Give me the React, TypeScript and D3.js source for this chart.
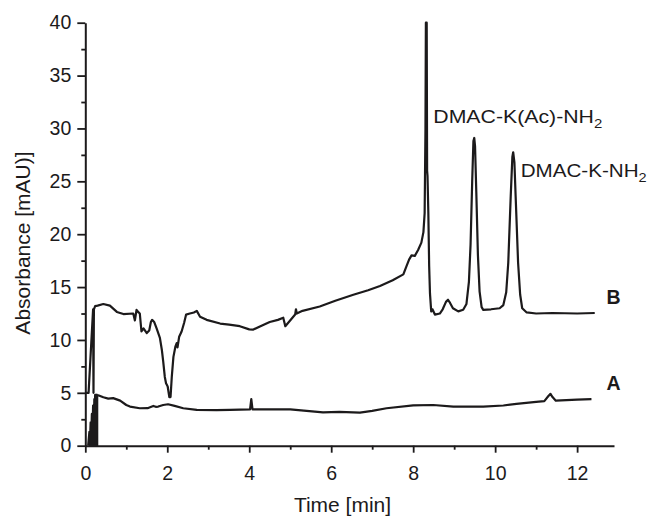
import React, { useEffect, useRef } from 'react';
import * as d3 from 'd3';

// HPLC traces, absorbance [mAU] against time [min]
const xTicks = [0, 2, 4, 6, 8, 10, 12];
const xMinor = [1, 3, 5, 7, 9, 11];
const yTicks = [0, 5, 10, 15, 20, 25, 30, 35, 40];
const yMinor = [2.5, 7.5, 12.5, 17.5, 22.5, 27.5, 32.5, 37.5];

const traceB: [number, number][] = [
  [0.02, 5.0], [0.08, 5.0], [0.19, 12.9], [0.2, 5.0], [0.21, 12.9], [0.24, 13.2],
  [0.3, 13.25], [0.44, 13.4], [0.6, 13.25], [0.77, 12.65], [0.93, 12.45], [1.17, 12.5],
  [1.21, 11.85], [1.25, 12.85], [1.3, 12.6], [1.33, 12.5], [1.37, 10.8], [1.42, 11.1],
  [1.5, 10.65], [1.56, 10.9], [1.6, 11.7], [1.63, 11.9], [1.68, 11.7], [1.74, 11.1],
  [1.82, 10.2], [1.87, 9.0], [1.9, 8.0], [1.94, 6.5], [1.97, 5.9], [2.01, 5.6],
  [2.05, 4.6], [2.08, 4.6], [2.11, 6.5], [2.15, 8.4], [2.2, 9.4], [2.23, 9.7],
  [2.25, 9.3], [2.29, 10.3], [2.35, 10.8], [2.41, 11.6], [2.46, 12.4], [2.55, 12.5],
  [2.65, 12.6], [2.72, 12.75], [2.8, 12.2], [2.96, 11.9], [3.29, 11.55], [3.51, 11.45],
  [3.77, 11.3], [4.0, 11.0], [4.1, 10.98], [4.3, 11.35], [4.5, 11.7], [4.7, 11.9],
  [4.83, 12.1], [4.88, 11.3], [5.12, 12.4], [5.14, 12.9], [5.16, 12.5], [5.3, 12.75],
  [5.72, 13.16], [6.1, 13.7], [6.54, 14.27], [6.9, 14.7], [7.19, 15.1], [7.5, 15.65],
  [7.76, 16.2], [7.84, 17.0], [7.9, 17.6], [7.96, 18.0], [8.04, 17.95], [8.12, 18.5],
  [8.2, 19.2], [8.25, 20.2], [8.28, 22], [8.3, 30], [8.31, 40], [8.33, 40],
  [8.34, 26], [8.35, 25.5], [8.37, 22], [8.39, 17], [8.41, 14.4], [8.44, 12.7],
  [8.47, 12.9], [8.53, 12.4], [8.65, 12.5], [8.72, 12.9], [8.8, 13.6], [8.85, 13.8],
  [8.9, 13.5], [8.97, 13.0], [9.1, 12.7], [9.22, 12.85], [9.3, 13.4], [9.36, 15.5],
  [9.4, 19], [9.44, 25], [9.47, 28.8], [9.49, 29.1], [9.51, 28.3], [9.54, 24],
  [9.58, 18], [9.62, 14.6], [9.67, 13.1], [9.71, 12.85], [9.9, 12.9], [10.11, 13.0],
  [10.2, 13.3], [10.27, 14.5], [10.32, 17.3], [10.38, 23.6], [10.42, 27.3], [10.44, 27.75],
  [10.47, 26.8], [10.5, 23.6], [10.56, 17.3], [10.61, 14.3], [10.66, 13.0], [10.77, 12.6],
  [11.0, 12.5], [11.4, 12.55], [12.0, 12.5], [12.43, 12.55],
];

const traceA: [number, number][] = [
  [0.07, 0], [0.1, 1.3], [0.11, 0], [0.13, 2.2], [0.14, 0], [0.16, 3.0], [0.17, 0],
  [0.19, 3.8], [0.2, 0], [0.22, 4.4], [0.23, 0], [0.24, 4.8], [0.25, 0], [0.26, 4.8],
  [0.27, 0], [0.28, 4.8], [0.29, 0], [0.29, 4.8], [0.33, 4.75], [0.44, 4.58], [0.56, 4.45],
  [0.68, 4.5], [0.85, 4.26], [1.0, 3.85], [1.09, 3.7], [1.33, 3.54], [1.52, 3.55],
  [1.58, 3.64], [1.66, 3.76], [1.72, 3.68], [1.78, 3.7], [1.9, 3.85], [2.02, 3.92],
  [2.18, 3.76], [2.39, 3.54], [2.72, 3.38], [3.2, 3.36], [3.53, 3.38], [4.02, 3.44],
  [4.05, 4.4], [4.08, 3.44], [4.5, 3.44], [5.0, 3.44], [5.4, 3.3], [5.8, 3.16],
  [6.2, 3.2], [6.7, 3.13], [7.0, 3.3], [7.35, 3.54], [8.0, 3.82], [8.49, 3.85],
  [8.98, 3.7], [9.71, 3.7], [10.2, 3.8], [10.52, 3.95], [11.0, 4.15], [11.2, 4.22],
  [11.3, 4.7], [11.35, 4.9], [11.4, 4.6], [11.48, 4.26], [12.0, 4.35], [12.35, 4.4],
];

const peakNames = ['DMAC-K(Ac)-NH', 'DMAC-K-NH'];
const traceNames = ['A', 'B'];

const FONT = '"Liberation Sans", Arial, Helvetica, sans-serif';
const INK = '#1c1a1b';

export default function App() {
  const ref = useRef<SVGSVGElement>(null);

  useEffect(() => {
    const svg = d3.select(ref.current);
    svg.selectAll('*').remove();

    const x = d3.scaleLinear().domain([0, 12.9]).range([85.3, 614]);
    const y = d3.scaleLinear().domain([0, 40]).range([445.7, 22.7]);

    // minor ticks first, majors and the domain line on top
    svg.append('g')
      .attr('transform', `translate(0,${y(0)})`)
      .call(d3.axisBottom(x).tickValues(xMinor).tickSize(4).tickSizeOuter(0).tickFormat(() => ''))
      .call(g => g.select('.domain').remove());
    svg.append('g')
      .attr('transform', `translate(${x(0)},0)`)
      .call(d3.axisLeft(y).tickValues(yMinor).tickSize(4).tickSizeOuter(0).tickFormat(() => ''))
      .call(g => g.select('.domain').remove());

    const gx = svg.append('g')
      .attr('transform', `translate(0,${y(0)})`)
      .call(d3.axisBottom(x).tickValues(xTicks).tickSize(7).tickSizeOuter(0).tickPadding(13));
    const gy = svg.append('g')
      .attr('transform', `translate(${x(0)},0)`)
      .call(d3.axisLeft(y).tickValues(yTicks).tickSize(8).tickSizeOuter(0).tickPadding(6));

    svg.selectAll('.tick line').attr('stroke', INK).attr('stroke-width', 1.8);
    svg.selectAll('.domain').attr('stroke', INK).attr('stroke-width', 2);
    [gx, gy].forEach(g => g.selectAll('text')
      .attr('font-family', FONT).attr('font-size', 19.5).attr('fill', INK));

    const line = d3.line<[number, number]>().x(d => x(d[0])).y(d => y(d[1]));

    svg.append('path').datum(traceA)
      .attr('d', line).attr('fill', 'none')
      .attr('stroke', INK).attr('stroke-width', 2.2).attr('stroke-linejoin', 'round');
    svg.append('path').datum(traceB)
      .attr('d', line).attr('fill', 'none')
      .attr('stroke', INK).attr('stroke-width', 2.2).attr('stroke-linejoin', 'round');

    // axis titles
    svg.append('text')
      .attr('x', 342.5).attr('y', 511.5)
      .attr('text-anchor', 'middle')
      .attr('font-family', FONT).attr('font-size', 21).attr('fill', INK)
      .text('Time [min]');
    svg.append('text')
      .attr('transform', 'translate(29.5,243) rotate(-90)')
      .attr('text-anchor', 'middle')
      .attr('font-family', FONT).attr('font-size', 21).attr('fill', INK)
      .text('Absorbance [mAU)]');

    // peak annotations
    const peaks = [
      { name: peakNames[0], x: 433.3, y: 123.3, len: 169 },
      { name: peakNames[1], x: 520.7, y: 177, len: 126 },
    ];
    peaks.forEach(p => {
      const t = svg.append('text')
        .attr('x', p.x).attr('y', p.y)
        .attr('font-family', FONT).attr('font-size', 18.5).attr('fill', INK)
        .attr('textLength', p.len).attr('lengthAdjust', 'spacingAndGlyphs');
      t.append('tspan').text(p.name);
      t.append('tspan').attr('dy', 5).attr('font-size', 13).text('2');
    });

    // trace labels
    svg.selectAll('.trace-label')
      .data([
        { name: traceNames[0], y: 389.5 },
        { name: traceNames[1], y: 303.5 },
      ])
      .enter()
      .append('text')
      .attr('x', 606.5).attr('y', d => d.y)
      .attr('font-family', FONT).attr('font-size', 19.5).attr('font-weight', 'bold').attr('fill', INK)
      .text(d => d.name);
  }, []);

  return (
    <div style={{ position: 'absolute', left: 0, top: 0 }}>
      <svg ref={ref} width={649} height={516} style={{ display: 'block', background: '#fff' }} />
    </div>
  );
}
